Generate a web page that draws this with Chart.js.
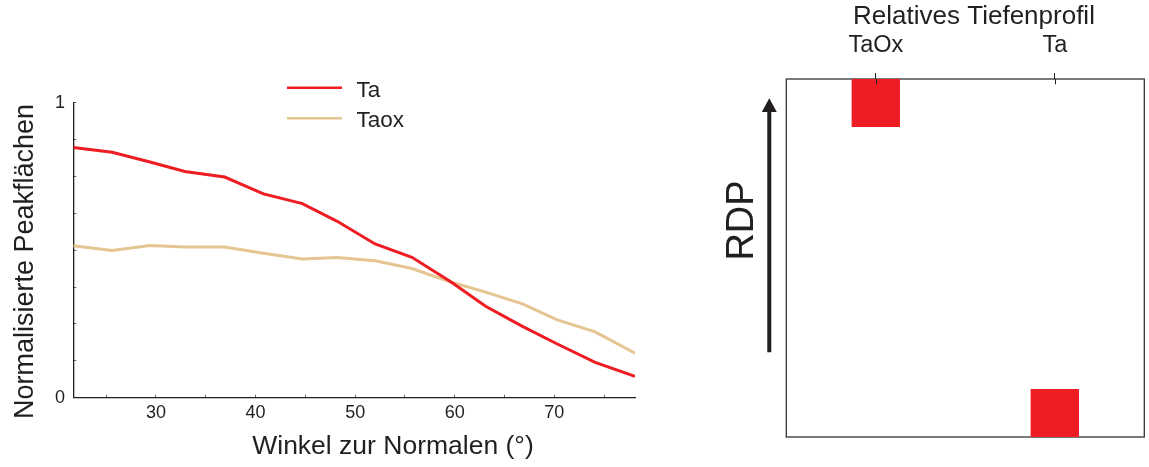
<!DOCTYPE html>
<html>
<head>
<meta charset="utf-8">
<script src="https://cdn.jsdelivr.net/npm/chart.js@4.4.0/dist/chart.umd.min.js"></script>
<style>
  html, body { margin: 0; padding: 0; background: #fff; }
  body { width: 1149px; height: 467px; position: relative; overflow: hidden; }
  .box { position: absolute; top: 0; height: 467px; }
  #left { left: 0; width: 700px; }
  #right { left: 700px; width: 449px; }
</style>
</head>
<body>
<div class="box" id="left"><canvas id="peaks"></canvas></div>
<div class="box" id="right"><canvas id="rdp"></canvas></div>
<script>
// angle-resolved peak areas (left panel)
const angles     = [21.7, 25.6, 29.4, 32.9, 36.9, 40.8, 44.7, 48.2, 52.0, 55.7, 59.6, 63.1, 66.8, 70.3, 74.1, 78.1];
const taValues   = [0.848, 0.832, 0.799, 0.767, 0.748, 0.691, 0.658, 0.598, 0.521, 0.476, 0.393, 0.310, 0.242, 0.182, 0.120, 0.072];
const taoxValues = [0.515, 0.499, 0.516, 0.511, 0.511, 0.490, 0.470, 0.475, 0.464, 0.438, 0.392, 0.358, 0.318, 0.264, 0.223, 0.151];
const yLabelled  = [0, 1];

// relative depth profile (right panel)
const phases  = ['TaOx', 'Ta'];
const rdpFrom = [0.866, 0];
const rdpTo   = [1, 0.134];

const INK  = '#231f20';
const RED  = '#ee1d23';
const TAN  = '#e5c592';
const FONT = "'Liberation Sans', Arial, Helvetica, sans-serif";

Chart.defaults.font.family = FONT;
Chart.defaults.color = INK;

const peakDecor = {
  id: 'peakDecor',
  afterDraw(chart) {
    const { ctx } = chart;
    ctx.save();
    ctx.fillStyle = INK;
    ctx.textBaseline = 'alphabetic';

    ctx.textAlign = 'center';
    ctx.font = `26.5px ${FONT}`;
    ctx.fillText('Winkel zur Normalen (°)', 393, 454.3);

    ctx.save();
    ctx.translate(33.3, 261.5);
    ctx.rotate(-Math.PI / 2);
    ctx.font = `27px ${FONT}`;
    ctx.fillText('Normalisierte Peakflächen', 0, 0);
    ctx.restore();

    // legend, stacked like the original
    ctx.textAlign = 'left';
    ctx.font = `22.5px ${FONT}`;
    chart.data.datasets.forEach((ds, i) => {
      const y = 87.7 + i * 30.6;
      ctx.strokeStyle = ds.borderColor;
      ctx.lineWidth = 2.5;
      ctx.beginPath();
      ctx.moveTo(287, y);
      ctx.lineTo(342, y);
      ctx.stroke();
      ctx.fillText(ds.label, 356.5, y + 9);
    });
    ctx.restore();
  }
};

new Chart(document.getElementById('peaks'), {
  type: 'line',
  data: {
    datasets: [
      { label: 'Ta',   data: angles.map((a, i) => ({ x: a, y: taValues[i] })),   borderColor: RED, borderWidth: 3, pointRadius: 0, tension: 0 },
      { label: 'Taox', data: angles.map((a, i) => ({ x: a, y: taoxValues[i] })), borderColor: TAN, borderWidth: 3, pointRadius: 0, tension: 0 }
    ]
  },
  options: {
    responsive: true,
    maintainAspectRatio: false,
    animation: false,
    layout: { padding: { left: 0, top: 102.7, right: 65, bottom: 0 } },
    plugins: { legend: { display: false }, tooltip: { enabled: false } },
    scales: {
      x: {
        type: 'linear', min: 21.7, max: 78.1,
        ticks: {
          stepSize: 5, includeBounds: false, autoSkip: false, maxRotation: 0,
          padding: 7.3, color: INK, font: { size: 18 },
          callback: v => (v % 10 === 0 ? v : '')
        },
        grid: { drawOnChartArea: false, tickLength: -3, color: '#666', lineWidth: 1 },
        border: { color: INK, width: 1.3 },
        afterFit: s => { s.height = 69.3; }
      },
      y: {
        type: 'linear', min: 0, max: 1,
        ticks: {
          stepSize: 0.125, includeBounds: false, autoSkip: false,
          padding: 11.3, color: INK, font: { size: 18 },
          callback: v => (yLabelled.includes(v) ? v : '')
        },
        grid: { drawOnChartArea: false, tickLength: -3, color: '#666', lineWidth: 1 },
        border: { color: INK, width: 1.3 },
        afterFit: s => { s.width = 73.3; }
      }
    }
  },
  plugins: [peakDecor]
});

const rdpDecor = {
  id: 'rdpDecor',
  beforeDatasetsDraw(chart) {
    const { ctx, chartArea: a } = chart;
    ctx.save();
    ctx.strokeStyle = '#333';
    ctx.lineWidth = 1.3;
    ctx.strokeRect(a.left, a.top, a.right - a.left, a.bottom - a.top);
    ctx.restore();
  },
  afterDatasetsDraw(chart) {
    const { ctx, chartArea: a } = chart;
    const xs = chart.scales.x;
    ctx.save();
    ctx.strokeStyle = INK;
    ctx.lineWidth = 1;
    xs.ticks.forEach((t, i) => {
      const px = Math.round(xs.getPixelForTick(i)) + 0.5;
      ctx.beginPath();
      ctx.moveTo(px, a.top);
      ctx.lineTo(px, a.top + 5.3);
      ctx.stroke();
    });

    ctx.fillStyle = INK;
    ctx.textAlign = 'center';
    ctx.textBaseline = 'alphabetic';
    ctx.font = `26px ${FONT}`;
    ctx.fillText('Relatives Tiefenprofil', 274, 24);

    ctx.save();
    ctx.translate(53.3, 220.5);
    ctx.rotate(-Math.PI / 2);
    ctx.font = `38px ${FONT}`;
    ctx.fillText('RDP', 0, 0);
    ctx.restore();

    // depth arrow
    ctx.strokeStyle = INK;
    ctx.lineWidth = 4;
    ctx.beginPath();
    ctx.moveTo(69.3, 352.3);
    ctx.lineTo(69.3, 110);
    ctx.stroke();
    ctx.beginPath();
    ctx.moveTo(69.3, 98.3);
    ctx.lineTo(76.8, 112);
    ctx.lineTo(61.8, 112);
    ctx.closePath();
    ctx.fill();
    ctx.restore();
  }
};

new Chart(document.getElementById('rdp'), {
  type: 'bar',
  data: {
    labels: phases,
    datasets: [{
      data: phases.map((p, i) => [rdpFrom[i], rdpTo[i]]),
      backgroundColor: RED,
      borderWidth: 0,
      barPercentage: 1,
      categoryPercentage: 0.27
    }]
  },
  options: {
    responsive: true,
    maintainAspectRatio: false,
    animation: false,
    layout: { padding: { left: 86.3, top: 0, right: 4.7, bottom: 30 } },
    plugins: { legend: { display: false }, tooltip: { enabled: false } },
    scales: {
      x: {
        position: 'top',
        ticks: { padding: 13.1, color: INK, font: { size: 23.5 } },
        grid: { offset: false, drawOnChartArea: false, tickLength: 6, color: INK, lineWidth: 1 },
        border: { display: false },
        afterFit: s => { s.height = 79; }
      },
      y: { display: false, min: 0, max: 1 }
    }
  },
  plugins: [rdpDecor]
});
</script>
</body>
</html>
